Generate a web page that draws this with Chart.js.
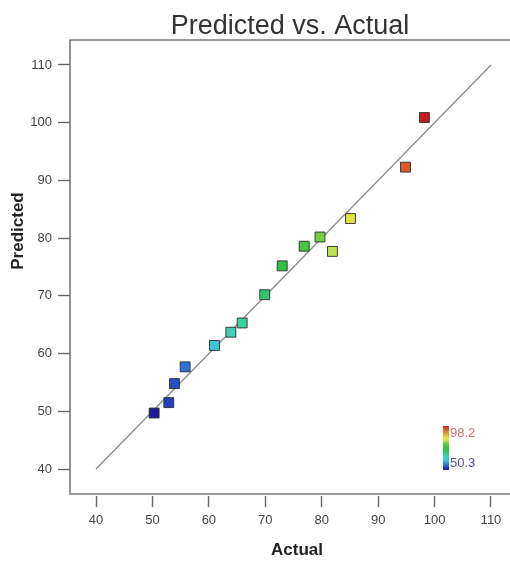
<!DOCTYPE html>
<html><head><meta charset="utf-8">
<script src="https://cdn.jsdelivr.net/npm/chart.js@4/dist/chart.umd.min.js"></script>
<style>html,body{margin:0;padding:0;background:#fff}canvas{display:block}</style>
</head><body>
<canvas id="c" width="510" height="561"></canvas>
<script>
// ---- data ----
const actual    = [50.3, 52.9, 53.9, 55.8, 61.0, 63.9, 65.9, 69.9, 73.0, 76.9, 79.7, 81.9, 85.1, 94.85, 98.2];
const predicted = [49.7, 51.5, 54.8, 57.7, 61.4, 63.7, 65.3, 70.2, 75.2, 78.6, 80.2, 77.7, 83.4, 92.3, 100.9];
const diagonal  = [40, 110];
const xTicks = [40, 50, 60, 70, 80, 90, 100, 110];
const yTicks = [40, 50, 60, 70, 80, 90, 100, 110];
const colorRange = [50.3, 98.2];
const colorRangeLabels = ['98.2', '50.3'];

// ---- colour map (blue -> cyan -> green -> yellow -> red) ----
const cmap = [
  [0.00, [28, 28, 150]], [0.06, [36, 68, 192]], [0.12, [48, 116, 216]],
  [0.22, [60, 196, 212]], [0.30, [64, 212, 176]], [0.41, [52, 196, 108]],
  [0.48, [48, 192, 64]], [0.56, [72, 200, 60]], [0.62, [120, 208, 64]],
  [0.66, [192, 224, 80]], [0.73, [228, 228, 64]], [0.93, [220, 88, 40]],
  [1.00, [196, 28, 28]]
];
function colorAt(t) {
  t = Math.max(0, Math.min(1, t));
  for (let i = 1; i < cmap.length; i++) {
    if (t <= cmap[i][0]) {
      const [t0, c0] = cmap[i - 1], [t1, c1] = cmap[i];
      const f = (t - t0) / (t1 - t0);
      const c = c0.map((v, k) => Math.round(v + (c1[k] - v) * f));
      return `rgb(${c[0]},${c[1]},${c[2]})`;
    }
  }
  const c = cmap[cmap.length - 1][1];
  return `rgb(${c[0]},${c[1]},${c[2]})`;
}
const pointColors = actual.map(v => colorAt((v - colorRange[0]) / (colorRange[1] - colorRange[0])));

const FONT = "'Liberation Sans', Arial, sans-serif";

const framePlugin = {
  id: 'frame',
  beforeDatasetsDraw(chart) {
    const {ctx, chartArea: a} = chart;
    ctx.save();
    ctx.strokeStyle = '#7a7a7a';
    ctx.lineWidth = 1.6;
    ctx.beginPath();
    ctx.moveTo(a.right + 2, a.top);
    ctx.lineTo(a.left, a.top);
    ctx.lineTo(a.left, a.bottom);
    ctx.lineTo(a.right + 2, a.bottom);
    ctx.stroke();
    ctx.restore();
  }
};

const extrasPlugin = {
  id: 'extras',
  afterDraw(chart) {
    const {ctx} = chart;
    ctx.save();
    ctx.font = `bold 17px ${FONT}`;
    ctx.fillStyle = '#222';
    ctx.textAlign = 'center';
    ctx.textBaseline = 'middle';
    // x axis title
    ctx.fillText('Actual', 297, 550);
    // y axis title
    ctx.translate(18, 231);
    ctx.rotate(-Math.PI / 2);
    ctx.fillText('Predicted', 0, 0);
    ctx.restore();

    // colour legend
    ctx.save();
    const x0 = 443, y0 = 426, w = 6, h = 44;
    const g = ctx.createLinearGradient(0, y0 + h, 0, y0);
    cmap.forEach(([t, c]) => g.addColorStop(t, `rgb(${c[0]},${c[1]},${c[2]})`));
    ctx.fillStyle = g;
    ctx.fillRect(x0, y0, w, h);
    ctx.font = `13px ${FONT}`;
    ctx.textAlign = 'left';
    ctx.textBaseline = 'middle';
    ctx.fillStyle = '#c87272';
    ctx.fillText(colorRangeLabels[0], x0 + w + 1, 433);
    ctx.fillStyle = '#55559a';
    ctx.fillText(colorRangeLabels[1], x0 + w + 1, 463);
    ctx.restore();
  }
};

new Chart(document.getElementById('c'), {
  data: {
    datasets: [
      {
        type: 'line',
        data: diagonal.map(v => ({x: v, y: v})),
        borderColor: '#8a8a8a',
        borderWidth: 1.3,
        pointRadius: 0,
        fill: false,
        order: 2
      },
      {
        type: 'scatter',
        data: actual.map((v, i) => ({x: v, y: predicted[i]})),
        pointStyle: 'rect',
        pointRadius: 7,
        backgroundColor: pointColors,
        borderColor: 'rgba(45,45,45,0.9)',
        borderWidth: 1,
        order: 1
      }
    ]
  },
  options: {
    responsive: false,
    animation: false,
    devicePixelRatio: 1,
    layout: {autoPadding: false, padding: {left: 0, right: 0, top: 0, bottom: 0}},
    plugins: {
      legend: {display: false},
      tooltip: {enabled: false},
      title: {
        display: true,
        text: 'Predicted vs. Actual',
        fullSize: false,
        color: '#333',
        font: {family: FONT, size: 27, weight: 'normal', lineHeight: 1},
        padding: {top: 13, bottom: 0}
      }
    },
    scales: {
      x: {
        type: 'linear',
        min: 35.39, max: 113.37,
        afterFit(s) { s.height = 67; s.paddingLeft = 0; s.paddingRight = 0; },
        afterBuildTicks(s) { s.ticks = xTicks.map(v => ({value: v})); },
        border: {display: false},
        grid: {
          drawOnChartArea: false, drawTicks: true, tickLength: 13,
          tickColor: '#666', tickWidth: 1.4, tickBorderDash: [0, 2, 11, 100]
        },
        ticks: {includeBounds: false, color: '#444', padding: 6, font: {family: FONT, size: 13}, maxRotation: 0}
      },
      y: {
        type: 'linear',
        min: 35.67, max: 114.33,
        afterFit(s) { s.width = 70; s.paddingTop = 0; s.paddingBottom = 0; },
        afterBuildTicks(s) { s.ticks = yTicks.map(v => ({value: v})); },
        border: {display: false},
        grid: {drawOnChartArea: false, drawTicks: true, tickLength: 12, tickColor: '#666', tickWidth: 1.4},
        ticks: {includeBounds: false, color: '#444', padding: 6, font: {family: FONT, size: 13}}
      }
    }
  },
  plugins: [framePlugin, extrasPlugin]
});
</script>
</body></html>
